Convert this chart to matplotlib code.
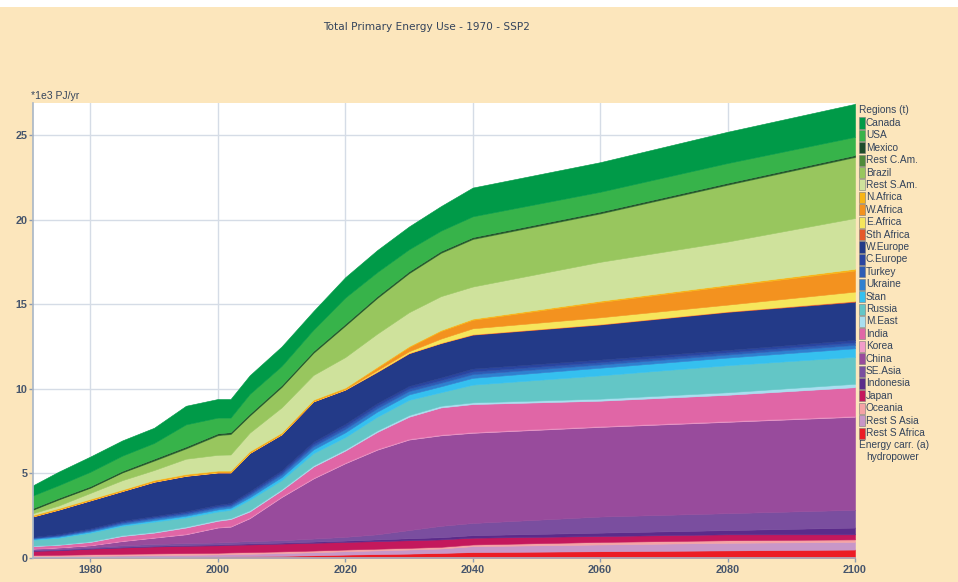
import matplotlib
matplotlib.use('Agg')
import matplotlib.pyplot as plt
from matplotlib.patches import Rectangle

# years
years = [1971, 1975, 1980, 1985, 1990, 1995, 2000, 2002, 2005, 2010,
         2015, 2020, 2025, 2030, 2035, 2040, 2060, 2080, 2100]

# region values, *1e3 PJ/yr, stacked from the bottom up
rest_s_africa = [0.04, 0.04, 0.05, 0.06, 0.07, 0.08, 0.09, 0.10, 0.11, 0.13, 0.16, 0.20, 0.23, 0.26, 0.30, 0.35, 0.40, 0.45, 0.50]
rest_s_asia = [0.06, 0.07, 0.08, 0.09, 0.10, 0.11, 0.12, 0.13, 0.14, 0.16, 0.18, 0.20, 0.22, 0.24, 0.26, 0.35, 0.40, 0.45, 0.45]
oceania = [0.07, 0.08, 0.09, 0.10, 0.10, 0.10, 0.10, 0.10, 0.10, 0.10, 0.10, 0.10, 0.10, 0.10, 0.10, 0.10, 0.15, 0.15, 0.15]
japan = [0.25, 0.27, 0.33, 0.37, 0.41, 0.43, 0.44, 0.45, 0.45, 0.46, 0.46, 0.45, 0.45, 0.45, 0.44, 0.40, 0.35, 0.35, 0.30]
indonesia = [0.03, 0.03, 0.03, 0.04, 0.04, 0.05, 0.05, 0.05, 0.06, 0.06, 0.07, 0.08, 0.10, 0.12, 0.13, 0.15, 0.20, 0.25, 0.40]
se_asia = [0.05, 0.05, 0.07, 0.09, 0.11, 0.11, 0.12, 0.12, 0.14, 0.14, 0.18, 0.22, 0.30, 0.48, 0.67, 0.72, 0.95, 1.00, 1.05]
china = [0.05, 0.08, 0.10, 0.25, 0.37, 0.52, 0.88, 0.90, 1.35, 2.55, 3.55, 4.35, 5.00, 5.35, 5.35, 5.33, 5.30, 5.40, 5.50]
korea = [0.02, 0.02, 0.02, 0.03, 0.03, 0.04, 0.04, 0.04, 0.05, 0.05, 0.05, 0.05, 0.05, 0.05, 0.05, 0.05, 0.05, 0.05, 0.05]
india = [0.13, 0.14, 0.18, 0.27, 0.27, 0.36, 0.36, 0.41, 0.35, 0.35, 0.65, 0.70, 1.00, 1.30, 1.60, 1.65, 1.50, 1.55, 1.70]
m_east = [0.03, 0.03, 0.04, 0.05, 0.05, 0.06, 0.06, 0.06, 0.07, 0.07, 0.08, 0.08, 0.09, 0.10, 0.10, 0.10, 0.12, 0.15, 0.20]
russia = [0.35, 0.39, 0.51, 0.55, 0.60, 0.54, 0.49, 0.49, 0.63, 0.53, 0.72, 0.72, 0.81, 0.90, 0.80, 1.05, 1.38, 1.60, 1.60]
stan = [0.05, 0.06, 0.07, 0.08, 0.09, 0.10, 0.12, 0.12, 0.14, 0.18, 0.22, 0.28, 0.30, 0.32, 0.35, 0.40, 0.45, 0.45, 0.50]
ukraine = [0.05, 0.06, 0.07, 0.09, 0.10, 0.10, 0.11, 0.11, 0.14, 0.16, 0.18, 0.20, 0.20, 0.20, 0.21, 0.22, 0.19, 0.18, 0.20]
turkey = [0.03, 0.04, 0.05, 0.06, 0.07, 0.08, 0.08, 0.08, 0.10, 0.12, 0.13, 0.15, 0.15, 0.15, 0.15, 0.16, 0.14, 0.13, 0.15]
c_europe = [0.04, 0.05, 0.06, 0.07, 0.07, 0.08, 0.09, 0.09, 0.11, 0.12, 0.14, 0.15, 0.15, 0.15, 0.16, 0.17, 0.15, 0.14, 0.15]
w_europe = [1.20, 1.44, 1.65, 1.75, 2.02, 2.09, 1.90, 1.80, 2.26, 2.12, 2.38, 2.02, 1.85, 1.93, 2.03, 2.00, 2.07, 2.25, 2.25]
sth_africa = [0.01, 0.01, 0.01, 0.01, 0.01, 0.01, 0.01, 0.01, 0.01, 0.01, 0.01, 0.01, 0.02, 0.02, 0.02, 0.03, 0.03, 0.03, 0.05]
e_africa = [0.02, 0.02, 0.02, 0.02, 0.02, 0.02, 0.02, 0.02, 0.02, 0.02, 0.02, 0.02, 0.08, 0.10, 0.25, 0.35, 0.40, 0.40, 0.55]
w_africa = [0.02, 0.02, 0.02, 0.02, 0.03, 0.03, 0.03, 0.03, 0.03, 0.03, 0.03, 0.04, 0.15, 0.25, 0.45, 0.50, 0.90, 1.10, 1.25]
n_africa = [0.05, 0.05, 0.05, 0.05, 0.06, 0.06, 0.06, 0.06, 0.06, 0.06, 0.06, 0.06, 0.06, 0.06, 0.06, 0.07, 0.08, 0.08, 0.10]
rest_s_am = [0.10, 0.15, 0.35, 0.55, 0.58, 0.90, 0.93, 0.95, 1.09, 1.48, 1.45, 1.80, 1.95, 2.00, 2.00, 1.90, 2.30, 2.55, 3.00]
brazil = [0.20, 0.35, 0.30, 0.45, 0.55, 0.60, 1.15, 1.20, 1.00, 1.20, 1.30, 1.85, 2.10, 2.30, 2.55, 2.80, 2.85, 3.35, 3.60]
rest_c_am = [0.03, 0.03, 0.03, 0.03, 0.04, 0.04, 0.04, 0.04, 0.04, 0.04, 0.04, 0.04, 0.04, 0.04, 0.04, 0.04, 0.04, 0.04, 0.04]
mexico = [0.07, 0.07, 0.07, 0.07, 0.08, 0.08, 0.08, 0.08, 0.08, 0.08, 0.08, 0.08, 0.08, 0.08, 0.08, 0.08, 0.08, 0.08, 0.08]
usa = [0.75, 0.75, 0.85, 0.90, 0.93, 1.31, 0.93, 0.86, 1.17, 1.13, 1.26, 1.55, 1.42, 1.30, 1.20, 1.23, 1.17, 1.17, 1.08]
canada = [0.60, 0.80, 0.90, 0.90, 0.90, 1.10, 1.10, 1.10, 1.10, 1.15, 1.10, 1.20, 1.30, 1.35, 1.45, 1.70, 1.75, 1.85, 1.95]

# legend order (top of stack first)
regions = ['Canada', 'USA', 'Mexico', 'Rest C.Am.', 'Brazil', 'Rest S.Am.',
           'N.Africa', 'W.Africa', 'E.Africa', 'Sth Africa', 'W.Europe',
           'C.Europe', 'Turkey', 'Ukraine', 'Stan', 'Russia', 'M.East',
           'India', 'Korea', 'China', 'SE.Asia', 'Indonesia', 'Japan',
           'Oceania', 'Rest S Asia', 'Rest S Africa']
series = [canada, usa, mexico, rest_c_am, brazil, rest_s_am,
          n_africa, w_africa, e_africa, sth_africa, w_europe,
          c_europe, turkey, ukraine, stan, russia, m_east,
          india, korea, china, se_asia, indonesia, japan,
          oceania, rest_s_asia, rest_s_africa]
colors = ['#009a48', '#37b34a', '#1e4d2b', '#4f8a3a', '#98c65e', '#cfe29c',
          '#f8b516', '#f3921f', '#f6e65c', '#e5582a', '#233a88',
          '#2a45a0', '#2d5cb5', '#2f80cf', '#35c0ef', '#63c6c6', '#a9dff0',
          '#e066a6', '#f19cc9', '#984b9c', '#7a4e9f', '#5b2b8a', '#c4185c',
          '#f5a3a5', '#c897c8', '#ec1c24']

bg = '#fce6bc'
txt = '#34445c'

fig = plt.figure(figsize=(9.58, 5.82), dpi=100)
fig.patch.set_facecolor(bg)
W, H = 958.0, 582.0

# white strip along the top edge
fig.patches.append(Rectangle((0, 1 - 7 / H), 1, 7 / H, transform=fig.transFigure,
                             facecolor='white', edgecolor='none'))

ax = fig.add_axes([33 / W, 1 - 558 / H, (855 - 33) / W, (558 - 103) / H])
ax.set_facecolor('white')

ax.stackplot(years, series[::-1], colors=colors[::-1],
             edgecolor='face', linewidth=0.4)

ax.set_xlim(1971, 2100)
ax.set_ylim(0, 26.9)
ax.set_xticks([1980, 2000, 2020, 2040, 2060, 2080, 2100])
ax.set_yticks([0, 5, 10, 15, 20, 25])
ax.grid(True, color='#d5dce6', linewidth=1.0)
ax.set_axisbelow(True)
for s in ['top', 'right']:
    ax.spines[s].set_visible(False)
for s in ['left', 'bottom']:
    ax.spines[s].set_color('#a9b6c6')
    ax.spines[s].set_linewidth(1.2)
ax.tick_params(colors='#8d9bb0', labelcolor='#46556c', labelsize=7.8,
               length=3, width=1)
ax.tick_params(axis='x', pad=2)
ax.tick_params(axis='y', pad=1)
for lab in ax.get_xticklabels() + ax.get_yticklabels():
    lab.set_fontweight('bold')
    lab.set_family('Liberation Sans')

fig.text(427 / W, 1 - 27 / H, 'Total Primary Energy Use - 1970 - SSP2',
         ha='center', va='center', fontsize=7.6, color=txt, family='DejaVu Sans')
fig.text(31 / W, 1 - 96 / H, '*1e3 PJ/yr', ha='left', va='center',
         fontsize=7.5, color=txt, family='Liberation Sans')

# legend drawn by hand on the right
fs = 7.3
fig.text(859 / W, 1 - 110 / H, 'Regions (t)', ha='left', va='center',
         fontsize=fs, color=txt, family='Liberation Sans')
for i, (name, c) in enumerate(zip(regions, colors)):
    y = 123 + i * 12.4
    fig.patches.append(Rectangle((859 / W, 1 - (y + 5.5) / H), 6 / W, 11 / H,
                                 transform=fig.transFigure, facecolor=c,
                                 edgecolor='#7a7a7a', linewidth=0.4))
    fig.text(866 / W, 1 - y / H, name, ha='left', va='center',
             fontsize=fs, color=txt, family='Liberation Sans')
fig.text(859 / W, 1 - 445 / H, 'Energy carr. (a)', ha='left', va='center',
         fontsize=fs, color=txt, family='Liberation Sans')
fig.text(866 / W, 1 - 457 / H, 'hydropower', ha='left', va='center',
         fontsize=fs, color=txt, family='Liberation Sans')

fig.savefig('out.png', dpi=100, facecolor=bg)
